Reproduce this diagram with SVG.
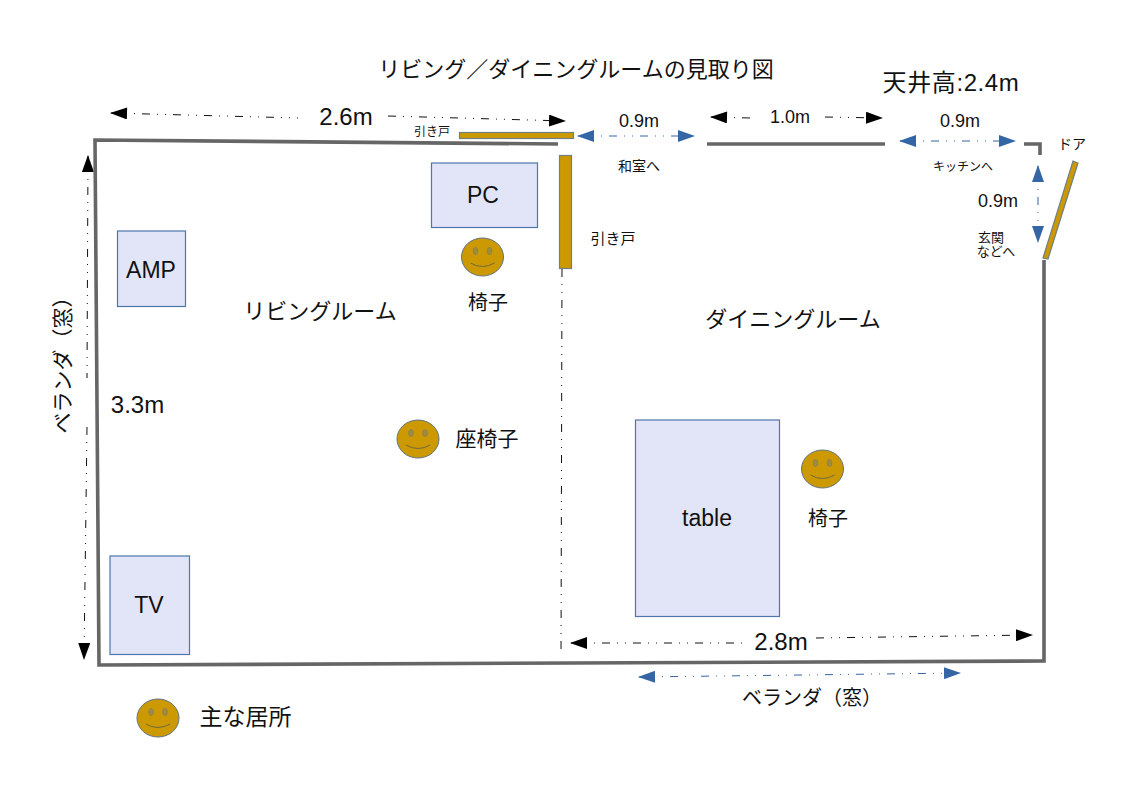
<svg xmlns="http://www.w3.org/2000/svg" width="1123" height="794" viewBox="0 0 1123 794">
<style>
text{font-family:"Liberation Sans","Noto Sans CJK JP",sans-serif;fill:#111;text-anchor:middle}
.s12{font-size:12px}.s13{font-size:13px}.s14{font-size:14px}.s15{font-size:15px}.s18{font-size:18px}.s20{font-size:20px}.s21{font-size:21px}.s22{font-size:22px}.s23{font-size:23px}.s24{font-size:24px}
.wall{fill:none;stroke:#666;stroke-width:3.6}
.box{fill:#e2e5f7;stroke:#4f76ab;stroke-width:1.2}
.door{fill:#cc9900;stroke:#6f7f86;stroke-width:1.2}
.k{fill:none;stroke:#111;stroke-width:1;stroke-dasharray:8 7 1 7 1 7;marker-end:url(#ak)}
.b{fill:none;stroke:#3465a4;stroke-width:1;stroke-dasharray:8 7 1 7 1 7;marker-start:url(#abs);marker-end:url(#ab)}
.ks{fill:none;stroke:#111;stroke-width:1;stroke-dasharray:8 7 1 7 1 7;marker-start:url(#aks)}
.face{fill:#cc9900;stroke:#5f7380;stroke-width:1}
.eye{fill:#a08a3e;stroke:#7b7b6a;stroke-width:.6}
.mouth{fill:none;stroke:#6f6a45;stroke-width:1}
</style>
<defs>
<marker id="ak" markerUnits="userSpaceOnUse" markerWidth="18" markerHeight="12" refX="16" refY="6" orient="auto"><path d="M0 0L17 6L0 12Z" fill="#000"/></marker>
<marker id="aks" markerUnits="userSpaceOnUse" markerWidth="18" markerHeight="12" refX="1" refY="6" orient="auto"><path d="M17 0L0 6L17 12Z" fill="#000"/></marker>
<marker id="ab" markerUnits="userSpaceOnUse" markerWidth="18" markerHeight="12" refX="16" refY="6" orient="auto"><path d="M0 0L17 6L0 12Z" fill="#3465a4"/></marker>
<marker id="abs" markerUnits="userSpaceOnUse" markerWidth="18" markerHeight="12" refX="1" refY="6" orient="auto"><path d="M17 0L0 6L17 12Z" fill="#3465a4"/></marker>
<g id="smile">
<ellipse class="face" cx="0" cy="0" rx="21" ry="19"/>
<ellipse class="eye" cx="-7" cy="-6" rx="2.4" ry="3.5"/>
<ellipse class="eye" cx="7" cy="-6" rx="2.4" ry="3.5"/>
<path class="mouth" d="M-12 6Q0 13 12 6"/>
</g>
</defs>
<rect width="1123" height="794" fill="#fff"/>
<g id="connectors">
<path class="ks" d="M111 113L298 118"/>
<path class="k" d="M388 116L565 121"/>
<path class="b" d="M578 136L694 136"/>
<path class="ks" d="M711 117L750 118"/>
<path class="k" d="M825 117L882 118"/>
<path class="b" d="M900 141L1015 141"/>
<path class="b" d="M1038 166L1038 242"/>
<path class="ks" d="M88 156L87 378"/>
<path class="k" d="M87 427L84 659"/>
<path class="ks" d="M571 643L745 643"/>
<path class="k" d="M816 638L1032 635"/>
<path class="b" d="M639 677L960 673"/>
<path d="M562 269L561 656" fill="none" stroke="#111" stroke-width="1" stroke-dasharray="8 7 1 7 1 7"/>
</g>
<g id="walls">
<path class="wall" d="M558 144L95 140L99 665L1044 661L1044 260"/>
<path class="wall" d="M707 144L885 144"/>
<path class="wall" d="M1024 144L1040 144L1040 155"/>
</g>
<g id="door-top"><rect class="door" x="459.500" y="132.500" width="114" height="6"/></g>
<g id="door-side"><rect class="door" x="559.500" y="155.500" width="12" height="113"/></g>
<g id="door-entry"><path class="door" d="M1073 161L1078 163L1048 259L1043 258Z"/></g>
<g id="amp"><rect class="box" x="117.500" y="231" width="68" height="75.500"/><text class="s23" x="151" y="278">AMP</text></g>
<g id="tv"><rect class="box" x="110" y="556" width="79.500" height="98.500"/><text class="s23" x="149" y="613">TV</text></g>
<g id="pc"><rect class="box" x="431.500" y="163" width="106" height="64.500"/><text class="s23" x="483" y="203">PC</text></g>
<g id="table"><rect class="box" x="635.500" y="420" width="144" height="196.500"/><text class="s23" x="707" y="526">table</text></g>
<g id="seat-pc"><use href="#smile" x="482.500" y="257"/><text class="s20" x="488" y="310">椅子</text></g>
<g id="seat-floor"><use href="#smile" x="418" y="439"/><text class="s21" x="487" y="446">座椅子</text></g>
<g id="seat-dining"><use href="#smile" x="822.500" y="469"/><text class="s20" x="828" y="526">椅子</text></g>
<g id="legend"><use href="#smile" x="158" y="718"/><text class="s23" x="245.500" y="725">主な居所</text></g>
<g id="labels">
<text class="s22" x="576" y="77">リビング／ダイニングルームの見取り図</text>
<text class="s24" x="951" y="91" letter-spacing=".6">天井高:2.4m</text>
<text class="s24" x="346" y="125">2.6m</text>
<text class="s18" x="639" y="127">0.9m</text>
<text class="s18" x="790" y="123">1.0m</text>
<text class="s18" x="960" y="127">0.9m</text>
<text class="s18" x="998" y="207">0.9m</text>
<text class="s24" x="781" y="650">2.8m</text>
<text class="s24" x="137.500" y="413">3.3m</text>
<text class="s12" x="432" y="136">引き戸</text>
<text class="s15" x="613" y="244">引き戸</text>
<text class="s14" x="639" y="171">和室へ</text>
<text class="s12" x="963" y="171">キッチンへ</text>
<text class="s14" x="1072" y="149">ドア</text>
<text class="s13" x="991" y="242">玄関</text>
<text class="s13" x="996" y="256">などへ</text>
<text class="s22" x="320" y="319">リビングルーム</text>
<text class="s22" x="793" y="327">ダイニングルーム</text>
<text class="s20" x="812" y="705">ベランダ（窓）</text>
<text class="s21" transform="translate(70 360) rotate(-90)">ベランダ（窓）</text>
</g>
</svg>
